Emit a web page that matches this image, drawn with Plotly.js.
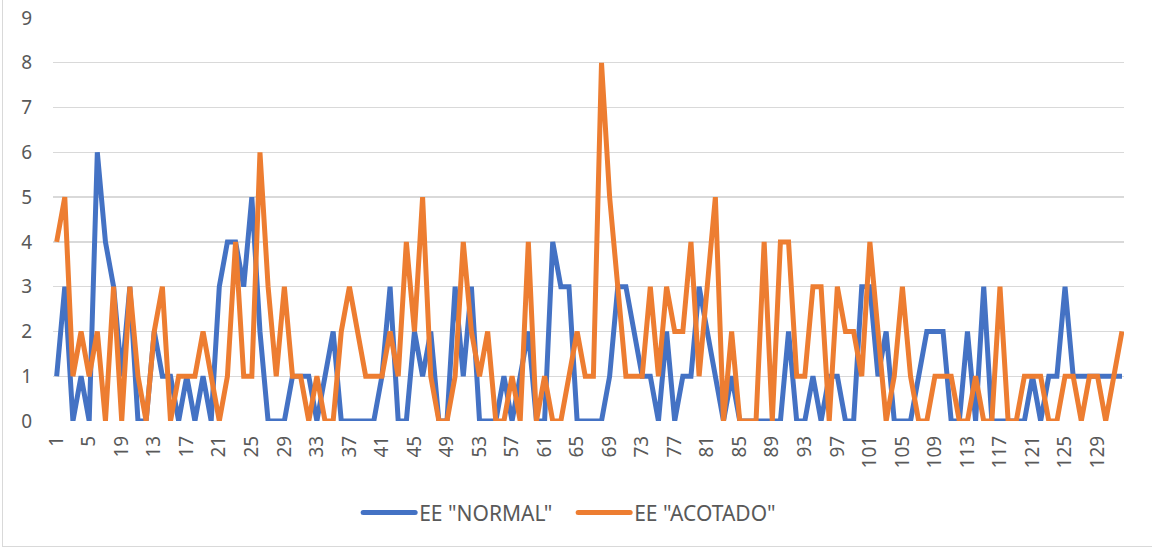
<!DOCTYPE html>
<html>
<head>
<meta charset="utf-8">
<script src="https://cdn.plot.ly/plotly-3.0.1.min.js"></script>
<style>
  html, body { margin: 0; padding: 0; background: #ffffff; }
  #frame { position: absolute; left: 0; top: 0; width: 1152px; height: 550px; overflow: hidden; }
  #chart { position: absolute; left: 0; top: 0; width: 1152px; height: 550px; }
  #bl { position: absolute; left: 2px; top: -2px; width: 1160px; height: 548px; border-left: 1px solid #d9d9d9; border-bottom: 1px solid #d9d9d9; pointer-events: none; }
</style>
</head>
<body>
<div id="frame">
  <div id="chart"></div>
  <div id="bl"></div>
</div>
<script>
// Categories 1..132
const categories = [];
for (let i = 1; i <= 132; i++) categories.push(i);

// Tick labels as printed in the reference (every 4th category)
const tickValues = [1,5,9,13,17,21,25,29,33,37,41,45,49,53,57,61,65,69,73,77,81,85,89,93,97,101,105,109,113,117,121,125,129];
const tickLabels = ["1","5","19","13","17","21","25","29","33","37","41","45","49","53","57","61","65","69","73","77","81","85","89","93","97","101","105","109","113","117","121","125","129"];

const seriesNames = ['EE "NORMAL"', 'EE "ACOTADO"'];

const normalValues = [
  1,3,0,1,0,6,4,3,1,3,
  0,0,2,1,1,0,1,0,1,0,
  3,4,4,3,5,2,0,0,0,1,
  1,1,0,1,2,0,0,0,0,0,
  1,3,0,0,2,1,2,0,0,3,
  1,3,0,0,0,1,0,1,2,0,
  0,4,3,3,0,0,0,0,1,3,
  3,2,1,1,0,2,0,1,1,3,
  2,1,0,1,0,0,0,0,0,0,
  2,0,0,1,0,1,1,0,0,3,
  3,1,2,0,0,0,1,2,2,2,
  0,0,2,0,3,0,0,0,0,0,
  1,0,1,1,3,1,1,1,1,1,
  1,1
];

const acotadoValues = [
  4,5,1,2,1,2,0,3,0,3,
  1,0,2,3,0,1,1,1,2,1,
  0,1,4,1,1,6,3,1,3,1,
  1,0,1,0,0,2,3,2,1,1,
  1,2,1,4,2,5,1,0,0,1,
  4,2,1,2,0,0,1,0,4,0,
  1,0,0,1,2,1,1,8,5,3,
  1,1,1,3,1,3,2,2,4,1,
  3,5,0,2,0,0,0,4,0,4,
  4,1,1,3,3,0,3,2,2,1,
  4,2,0,1,3,1,0,0,1,1,
  1,0,0,1,0,0,3,0,0,1,
  1,1,0,0,1,1,0,1,1,0,
  1,2
];

const colors = ['#4472C4', '#ED7D31'];
const fontFamily = '"Noto Sans", "Open Sans", "Liberation Sans", sans-serif';
const fontSize = 19;

const traces = [
  { x: categories, y: normalValues, name: seriesNames[0], type: 'scatter', mode: 'lines',
    line: { color: colors[0], width: 5, shape: 'linear' }, hoverinfo: 'x+y' },
  { x: categories, y: acotadoValues, name: seriesNames[1], type: 'scatter', mode: 'lines',
    line: { color: colors[1], width: 5, shape: 'linear' }, hoverinfo: 'x+y' }
];

const layout = {
  width: 1152, height: 550,
  margin: { l: 53, r: 28, t: 18, b: 129, pad: 0 },
  paper_bgcolor: '#ffffff', plot_bgcolor: '#ffffff',
  font: { family: fontFamily, size: fontSize, color: '#595959' },
  showlegend: true,
  legend: {
    orientation: 'h', x: 0.481, xanchor: 'center', y: -0.228, yanchor: 'middle',
    font: { family: fontFamily, size: 21, color: '#595959' },
    itemwidth: 56, tracegroupgap: 0, bgcolor: 'rgba(0,0,0,0)',
    entrywidth: 144, entrywidthmode: 'pixels'
  },
  xaxis: {
    range: [0.55, 132.25], type: 'linear',
    tickmode: 'array', tickvals: tickValues, ticktext: tickLabels,
    tickangle: -90, ticks: '', ticklabelstandoff: 10,
    showgrid: false, zeroline: false,
    showline: false,
    tickfont: { family: fontFamily, size: fontSize, color: '#595959' },
    fixedrange: true
  },
  yaxis: {
    range: [0, 9], dtick: 1, tick0: 0,
    showgrid: true, gridcolor: '#d9d9d9', gridwidth: 1.3,
    zeroline: false, showline: false, ticks: '', ticklabelstandoff: 20,
    tickfont: { family: fontFamily, size: fontSize, color: '#595959' },
    fixedrange: true
  }
};

Plotly.newPlot('chart', traces, layout, { displayModeBar: false, staticPlot: true }).then(function (gd) {
  // Lengthen the legend line samples (Excel style) so they end just before the label
  try {
    const groups = gd.querySelectorAll('.legend .traces');
    groups.forEach(function (g) {
      const txt = g.querySelector('text.legendtext');
      const ln = g.querySelector('path.js-line');
      if (!txt || !ln) return;
      const tx = parseFloat(txt.getAttribute('x')) || 40;
      ln.setAttribute('d', 'M' + (tx - 56) + ',0h52');
      ln.style.strokeLinecap = 'round';
    });
  } catch (e) {}
});
</script>
</body>
</html>
